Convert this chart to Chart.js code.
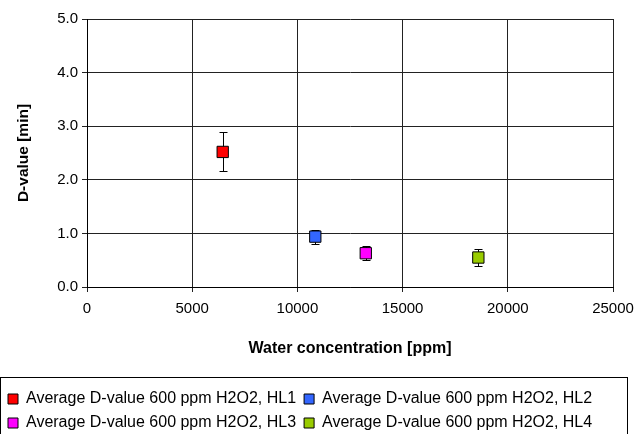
<!DOCTYPE html>
<html>
<head>
<meta charset="utf-8">
<script src="https://cdn.jsdelivr.net/npm/chart.js@4"></script>
<style>
  html, body { margin: 0; padding: 0; background: #fff; }
  #wrap { width: 635px; height: 434px; }
</style>
</head>
<body>
<div id="wrap"><canvas id="dChart"></canvas></div>
<script>
// données
const seriesNames = [
  "Average D-value 600 ppm H2O2, HL1",
  "Average D-value 600 ppm H2O2, HL2",
  "Average D-value 600 ppm H2O2, HL3",
  "Average D-value 600 ppm H2O2, HL4"
];
const waterPpm = [6450, 10850, 13250, 18600];
const dValues = [2.52, 0.94, 0.63, 0.55];
const errLow = [2.16, 0.80, 0.50, 0.39];
const errHigh = [2.89, 1.07, 0.77, 0.71];
const colors = ["#FF0000", "#3366FF", "#FF00FF", "#99CC00"];

const FONT = "'Liberation Sans', Arial, sans-serif";

// barres d'erreur, dessinées avant les marqueurs
const errorBars = {
  id: "errorBars",
  beforeDatasetsDraw(chart) {
    const { ctx, scales: { x, y } } = chart;
    ctx.save();
    ctx.strokeStyle = "#000";
    ctx.lineWidth = 1;
    waterPpm.forEach((wx, i) => {
      const px = Math.round(x.getPixelForValue(wx)) + 0.5;
      const top = Math.round(y.getPixelForValue(errHigh[i])) + 0.5;
      const bot = Math.round(y.getPixelForValue(errLow[i])) + 0.5;
      ctx.beginPath();
      ctx.moveTo(px, top); ctx.lineTo(px, bot);
      ctx.moveTo(px - 4, top); ctx.lineTo(px + 4, top);
      ctx.moveTo(px - 4, bot); ctx.lineTo(px + 4, bot);
      ctx.stroke();
    });
    ctx.restore();
  }
};

// cadre autour de la légende
const legendFrame = {
  id: "legendFrame",
  afterDraw(chart) {
    const lg = chart.legend;
    const ctx = chart.ctx;
    ctx.save();
    ctx.strokeStyle = "#000";
    ctx.lineWidth = 1;
    ctx.strokeRect(0.5, Math.round(lg.top) - 5.5, 627, 80);
    ctx.restore();
  }
};

document.addEventListener("DOMContentLoaded", function () {
  const ctx = document.getElementById("dChart").getContext("2d");
  new Chart(ctx, {
    type: "scatter",
    data: {
      datasets: seriesNames.map((name, i) => ({
        label: name,
        data: [{ x: waterPpm[i], y: dValues[i] }],
        backgroundColor: colors[i],
        borderColor: "#000",
        borderWidth: 1,
        pointStyle: "rect",
        pointRadius: 8,
        pointHoverRadius: 8
      }))
    },
    options: {
      responsive: true,
      maintainAspectRatio: false,
      animation: false,
      layout: { padding: { left: 0, right: 22, top: 19, bottom: -7 } },
      plugins: {
        tooltip: { enabled: false },
        legend: {
          position: "bottom",
          align: "start",
          labels: {
            color: "#000",
            font: { family: FONT, size: 16 },
            boxWidth: 10,
            boxHeight: 10,
            padding: 8
          }
        }
      },
      scales: {
        x: {
          type: "linear",
          min: 0,
          max: 25000,
          afterFit: (s) => { s.height = 96; s.paddingLeft = 0; s.paddingRight = 0; },
          ticks: {
            stepSize: 5000,
            color: "#000",
            font: { family: FONT, size: 15 },
            padding: 8,
            maxRotation: 0,
            callback: (v) => String(v)
          },
          grid: { color: "#222", tickLength: 5 },
          border: { color: "#000" },
          title: {
            display: true,
            text: "Water concentration [ppm]",
            color: "#000",
            font: { family: FONT, size: 16, weight: "bold" },
            padding: { top: 14, bottom: 25 }
          }
        },
        y: {
          min: 0,
          max: 5,
          afterFit: (s) => { s.width = 87; s.paddingTop = 0; s.paddingBottom = 0; },
          ticks: {
            stepSize: 1,
            color: "#000",
            font: { family: FONT, size: 15 },
            padding: 4,
            callback: (v) => v.toFixed(1)
          },
          grid: { color: "#222", tickLength: 5 },
          border: { color: "#000" },
          title: {
            display: true,
            text: "D-value [min]",
            color: "#000",
            font: { family: FONT, size: 15.5, weight: "bold" },
            padding: { top: 14, bottom: 0 }
          }
        }
      }
    },
    plugins: [errorBars, legendFrame]
  });
});
</script>
</body>
</html>
